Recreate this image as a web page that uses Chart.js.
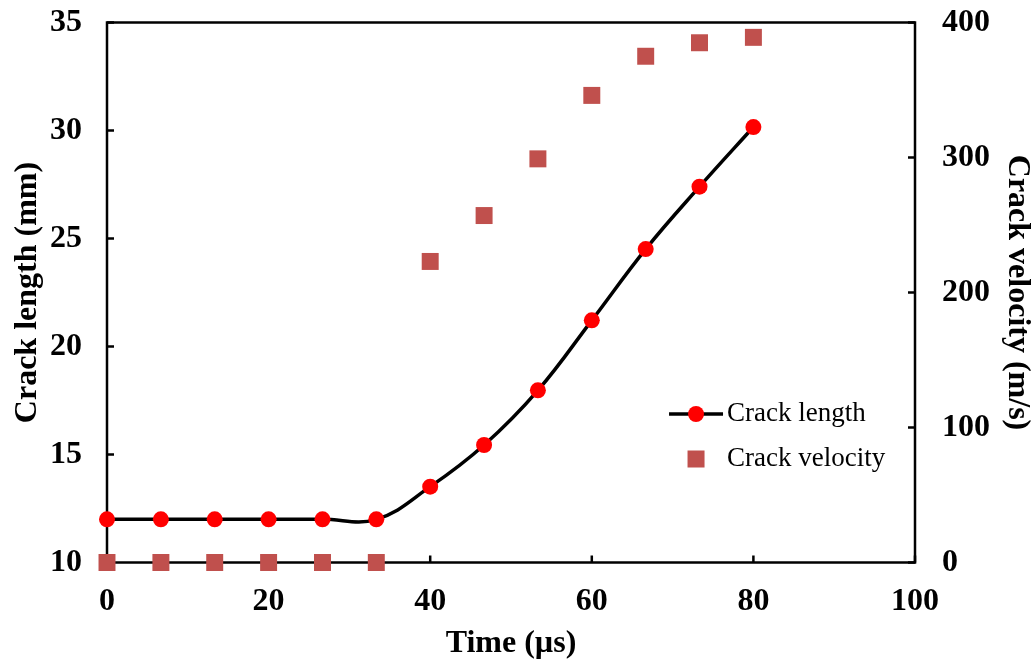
<!DOCTYPE html>
<html>
<head>
<meta charset="utf-8">
<script src="https://cdn.jsdelivr.net/npm/chart.js@4.4.1/dist/chart.umd.min.js"></script>
<style>
  html, body { margin: 0; padding: 0; background: #ffffff; }
  #wrap { width: 1036px; height: 663px; }
</style>
</head>
<body>
<div id="wrap"><canvas id="chart" width="1036" height="663"></canvas></div>
<script>
// Measurement times and results
const timeUs = [0, 6.67, 13.33, 20, 26.67, 33.33, 40, 46.67, 53.33, 60, 66.67, 73.33, 80];
const crackLengthMm = [12.0, 12.0, 12.0, 12.0, 12.0, 12.0, 13.51, 15.44, 17.97, 21.21, 24.51, 27.4, 30.16];
const crackVelocityMs = [0, 0, 0, 0, 0, 0, 223, 257, 299, 346, 375, 385, 389];

// Axis ranges and tick steps
const timeAxis = { min: 0, max: 100, step: 20 };
const lengthAxis = { min: 10, max: 35, step: 5 };
const velocityAxis = { min: 0, max: 400, step: 100 };

const AXIS_FONT = { family: "'Liberation Serif', 'Times New Roman', serif", size: 32, weight: 'bold', lineHeight: 1.2 };
const LEGEND_FONT = "27px 'Liberation Serif', 'Times New Roman', serif";
const VELOCITY_COLOR = '#C0504D';

const toPoints = (xs, ys) => xs.map((x, i) => ({ x: x, y: ys[i] }));

// Frame around the plot area plus inward tick marks on each axis
const framePlugin = {
  id: 'frame',
  beforeDatasetsDraw(chart) {
    const { ctx, chartArea: a, scales } = chart;
    ctx.save();
    ctx.strokeStyle = '#000';
    ctx.lineWidth = 2.5;
    ctx.strokeRect(a.left, a.top, a.right - a.left, a.bottom - a.top);
    const len = 7;
    ctx.beginPath();
    scales.x.ticks.forEach(t => {
      const px = scales.x.getPixelForValue(t.value);
      ctx.moveTo(px, a.bottom); ctx.lineTo(px, a.bottom - len);
    });
    scales.y.ticks.forEach(t => {
      const py = scales.y.getPixelForValue(t.value);
      ctx.moveTo(a.left, py); ctx.lineTo(a.left + len, py);
    });
    scales.y1.ticks.forEach(t => {
      const py = scales.y1.getPixelForValue(t.value);
      ctx.moveTo(a.right, py); ctx.lineTo(a.right - len, py);
    });
    ctx.stroke();
    ctx.restore();
  }
};

// Legend placed inside the plot area, lower right
const insideLegend = {
  id: 'insideLegend',
  afterDatasetsDraw(chart) {
    const { ctx, chartArea: a } = chart;
    const ds = chart.data.datasets;
    const w = a.right - a.left, h = a.bottom - a.top;
    const x0 = a.left + w * 0.729;   // sample centre
    const y0 = a.top + h * 0.725;
    const rowGap = 45;
    const textX = x0 + 31;
    ctx.save();
    // line sample with marker
    ctx.strokeStyle = ds[0].borderColor;
    ctx.lineWidth = ds[0].borderWidth;
    ctx.beginPath();
    ctx.moveTo(x0 - 27, y0); ctx.lineTo(x0 + 27, y0);
    ctx.stroke();
    ctx.fillStyle = ds[0].pointBackgroundColor;
    ctx.beginPath();
    ctx.arc(x0, y0, 8, 0, Math.PI * 2);
    ctx.fill();
    // square marker sample
    ctx.fillStyle = ds[1].pointBackgroundColor;
    ctx.fillRect(x0 - 8.5, y0 + rowGap - 8.5, 17, 17);
    // labels
    ctx.fillStyle = '#000';
    ctx.font = LEGEND_FONT;
    ctx.textBaseline = 'middle';
    ctx.textAlign = 'left';
    ctx.fillText(ds[0].label, textX, y0);
    ctx.fillText(ds[1].label, textX, y0 + rowGap);
    ctx.restore();
  }
};

// Fix an axis box size; vertical axes also drop their label overhang padding
const fixedSize = (prop, val) => (scale) => {
  scale[prop] = val;
  if (prop === 'width') { scale.paddingTop = 0; scale.paddingBottom = 0; }
};

new Chart(document.getElementById('chart'), {
  type: 'line',
  data: {
    datasets: [
      {
        label: 'Crack length',
        data: toPoints(timeUs, crackLengthMm),
        yAxisID: 'y',
        borderColor: '#000000',
        borderWidth: 3.5,
        tension: 0.4,
        pointStyle: 'circle',
        pointRadius: 8,
        pointBackgroundColor: '#FF0000',
        pointBorderColor: '#FF0000',
        pointBorderWidth: 0,
        clip: false
      },
      {
        label: 'Crack velocity',
        data: toPoints(timeUs, crackVelocityMs),
        yAxisID: 'y1',
        showLine: false,
        pointStyle: 'rect',
        pointRadius: 12,
        pointBackgroundColor: VELOCITY_COLOR,
        pointBorderColor: VELOCITY_COLOR,
        pointBorderWidth: 0,
        clip: false
      }
    ]
  },
  options: {
    responsive: false,
    devicePixelRatio: 1,
    animation: false,
    events: [],
    layout: { padding: { top: 22.5, left: 0, right: 0, bottom: 0 } },
    plugins: { legend: { display: false }, tooltip: { enabled: false } },
    scales: {
      x: {
        type: 'linear',
        position: 'bottom',
        min: timeAxis.min, max: timeAxis.max,
        grid: { display: false, drawTicks: false },
        border: { display: false },
        ticks: { stepSize: timeAxis.step, color: '#000', font: AXIS_FONT, padding: 20, maxRotation: 0 },
        title: { display: true, text: 'Time (µs)', color: '#000', font: AXIS_FONT, padding: { top: 0, bottom: 0 } },
        afterFit: fixedSize('height', 100.5)
      },
      y: {
        type: 'linear',
        position: 'left',
        min: lengthAxis.min, max: lengthAxis.max,
        grid: { display: false, drawTicks: false },
        border: { display: false },
        ticks: { stepSize: lengthAxis.step, color: '#000', font: AXIS_FONT, padding: 25 },
        title: { display: true, text: 'Crack length (mm)', color: '#000', font: AXIS_FONT, padding: { top: 9, bottom: 0 } },
        afterFit: fixedSize('width', 107)
      },
      y1: {
        type: 'linear',
        position: 'right',
        min: velocityAxis.min, max: velocityAxis.max,
        grid: { display: false, drawTicks: false },
        border: { display: false },
        ticks: { stepSize: velocityAxis.step, color: '#000', font: AXIS_FONT, padding: 27 },
        title: { display: true, text: 'Crack velocity (m/s)', color: '#000', font: AXIS_FONT, padding: { top: 0, bottom: 0 } },
        afterFit: fixedSize('width', 121)
      }
    }
  },
  plugins: [framePlugin, insideLegend]
});
</script>
</body>
</html>
